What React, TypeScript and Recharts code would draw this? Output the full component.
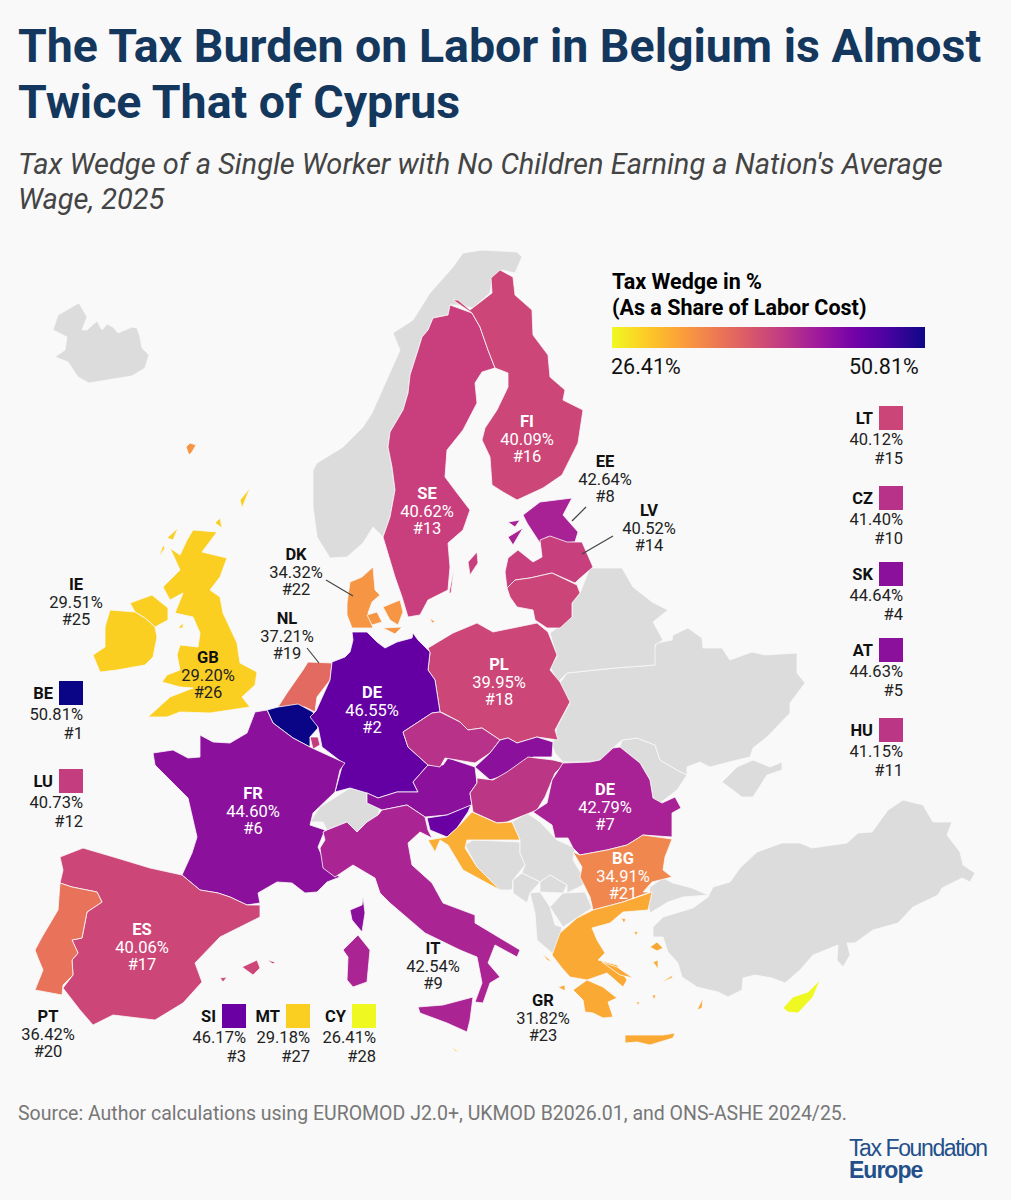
import { ScatterChart, Scatter, XAxis, YAxis } from 'recharts';

type Pt = [number, number];

// outlines, in the picture's own map units
const iceland: Pt[] = [[53,330],[58,315],[72,307],[79,303],[87,317],[82,330],[87,330],[97,321],[102,330],[107,324],[113,327],[118,333],[132,327],[137,328],[140,337],[142,348],[149,355],[145,368],[132,376],[113,379],[89,383],[78,377],[68,362],[55,357],[65,350],[67,337]];
const norway: Pt[] = [[463,253],[482,250],[517,252],[522,257],[515,273],[502,270],[492,280],[490,293],[473,308],[457,305],[450,305],[448,315],[433,318],[428,330],[422,337],[418,350],[410,375],[408,393],[403,410],[390,432],[388,447],[392,467],[395,490],[390,517],[383,537],[373,527],[363,543],[347,557],[330,558],[317,537],[313,507],[313,470],[317,463],[343,447],[363,427],[372,413],[388,377],[400,350],[393,333],[413,320],[430,293],[453,267]];
const sweden: Pt[] = [[450,305],[472,313],[480,327],[488,350],[495,368],[482,372],[475,383],[477,403],[463,430],[447,450],[445,477],[457,493],[470,510],[463,530],[448,543],[450,567],[448,590],[428,600],[420,615],[408,617],[402,597],[395,577],[383,537],[390,517],[395,490],[392,467],[388,447],[390,432],[403,410],[408,393],[410,375],[418,350],[422,337],[428,330],[433,318],[448,315]];
const gotland: Pt[] = [[477,552],[468,562],[470,575],[478,563]];
const oland: Pt[] = [[454,568],[449,593],[451,593]];
const finland: Pt[] = [[500,270],[513,277],[515,295],[532,310],[533,335],[548,355],[550,377],[565,390],[563,400],[583,410],[578,443],[562,475],[543,488],[517,500],[503,492],[492,485],[490,457],[482,440],[485,428],[497,410],[508,387],[508,373],[495,368],[488,350],[480,327],[472,313],[453,300],[458,300],[470,310],[492,293],[491,278]];
const estonia: Pt[] = [[523,515],[540,502],[572,498],[563,515],[578,532],[575,542],[563,543],[547,537],[540,543],[527,523]];
const saaremaa: Pt[] = [[508,537],[523,528],[513,545]];
const hiiumaa: Pt[] = [[508,522],[520,520],[515,527]];
const latvia: Pt[] = [[505,572],[508,558],[518,550],[533,562],[542,557],[540,540],[550,536],[567,542],[582,542],[593,567],[578,580],[575,583],[552,573],[530,578],[515,580],[507,588]];
const lithuania: Pt[] = [[507,588],[515,580],[530,578],[552,573],[577,585],[580,593],[572,603],[572,617],[560,628],[547,628],[535,620],[533,610],[517,607],[510,597]];
const poland: Pt[] = [[428,648],[453,633],[477,623],[493,632],[537,623],[548,632],[557,655],[550,670],[560,682],[570,702],[555,730],[558,740],[537,737],[517,743],[508,738],[500,740],[482,728],[468,730],[460,722],[443,713],[440,712],[435,680],[428,670],[430,653]];
const germany: Pt[] = [[352,632],[367,632],[377,642],[385,648],[397,642],[412,638],[413,633],[418,640],[430,652],[428,670],[435,680],[440,712],[432,713],[403,732],[408,747],[428,765],[413,782],[418,792],[397,792],[378,798],[367,793],[350,788],[335,792],[343,763],[322,747],[318,727],[310,717],[316,711],[330,680],[332,662],[345,657],[350,652],[353,640]];
const jutland: Pt[] = [[373,567],[375,590],[380,595],[372,602],[368,613],[373,628],[352,628],[347,615],[347,603],[350,582],[362,577]];
const zealand: Pt[] = [[383,607],[400,600],[403,612],[398,625],[390,620]];
const funen: Pt[] = [[367,615],[377,612],[382,622],[372,625]];
const lolland: Pt[] = [[383,628],[402,627],[395,634]];
const bornholm: Pt[] = [[430,618],[435,622],[432,623]];
const faroes: Pt[] = [[186,447],[190,443],[196,445],[192,452],[189,455]];
const britain: Pt[] = [[193,530],[217,532],[202,552],[227,558],[220,577],[210,590],[220,597],[223,613],[237,643],[240,663],[257,672],[255,685],[242,697],[250,707],[210,713],[180,712],[167,717],[148,717],[170,697],[193,688],[180,687],[162,682],[167,675],[180,670],[177,655],[180,645],[198,647],[200,633],[193,617],[175,613],[183,593],[170,600],[163,587],[180,570],[170,548],[180,555],[187,540]];
const lewis: Pt[] = [[167,538],[178,528],[173,540]];
const skye: Pt[] = [[159,557],[163,545],[165,548]];
const orkney: Pt[] = [[215,523],[220,518],[222,528]];
const shetland: Pt[] = [[240,500],[250,488],[242,508]];
const man: Pt[] = [[178,628],[183,623],[183,628]];
const northIreland: Pt[] = [[130,603],[152,595],[168,608],[168,620],[155,627],[145,618],[135,612]];
const ireland: Pt[] = [[110,610],[135,612],[145,618],[155,627],[157,637],[153,657],[145,665],[117,670],[100,672],[93,655],[105,647],[105,627]];
const netherlands: Pt[] = [[308,662],[332,663],[330,680],[317,697],[315,712],[305,707],[278,707],[287,693],[303,670]];
const limburg: Pt[] = [[310,714],[315,714],[315,722],[310,720]];
const belgium: Pt[] = [[267,710],[278,707],[298,704],[313,712],[318,728],[310,737],[310,747],[293,738],[273,723]];
const luxembourg: Pt[] = [[310,737],[318,737],[320,745],[313,749]];
const france: Pt[] = [[153,753],[173,750],[188,758],[200,757],[200,735],[213,742],[230,743],[247,733],[255,712],[267,710],[273,723],[293,738],[310,747],[323,753],[345,763],[340,770],[335,792],[313,813],[310,825],[325,830],[318,847],[325,863],[333,873],[340,877],[327,882],[317,892],[305,893],[292,883],[277,882],[258,893],[260,903],[247,905],[230,897],[218,893],[200,890],[182,875],[192,853],[197,837],[188,798],[173,783],[155,765]];
const corsica: Pt[] = [[363,897],[365,913],[362,932],[352,920],[350,910],[362,905]];
const switzerland: Pt[] = [[310,822],[320,807],[350,788],[367,793],[367,803],[380,808],[378,815],[367,822],[357,832],[347,822],[327,830],[323,822]];
const austria: Pt[] = [[367,793],[378,798],[397,792],[418,792],[413,782],[428,765],[443,765],[448,758],[475,767],[477,783],[470,793],[472,805],[447,815],[425,817],[407,805],[382,810],[367,803]];
const czechia: Pt[] = [[403,732],[432,713],[440,712],[460,722],[468,730],[482,728],[500,740],[490,753],[475,763],[445,758],[440,767],[428,765],[408,747]];
const slovakia: Pt[] = [[500,740],[508,738],[517,743],[537,737],[553,742],[552,757],[533,757],[512,773],[490,780],[475,767],[490,753]];
const hungary: Pt[] = [[477,778],[493,780],[507,772],[528,757],[553,760],[565,763],[555,773],[545,797],[537,810],[507,822],[497,823],[473,812],[470,793],[477,783]];
const slovenia: Pt[] = [[427,818],[447,815],[471,805],[468,812],[457,828],[447,837],[430,830]];
const croatia: Pt[] = [[472,812],[497,823],[512,822],[520,840],[493,840],[467,840],[465,848],[477,867],[500,890],[513,897],[487,883],[463,870],[448,845],[440,840],[435,852],[428,840],[447,837],[457,828]];
const bosnia: Pt[] = [[465,845],[473,840],[520,842],[520,853],[525,865],[513,880],[512,890],[500,890],[477,867]];
const serbia: Pt[] = [[512,822],[527,813],[540,822],[557,840],[575,848],[573,860],[587,883],[567,893],[567,885],[550,875],[540,882],[522,873],[525,865],[520,853],[520,840]];
const montenegro: Pt[] = [[513,880],[522,873],[540,882],[530,893],[527,903],[513,893]];
const kosovo: Pt[] = [[540,882],[550,875],[567,885],[563,893],[540,892]];
const macedonia: Pt[] = [[550,907],[563,893],[585,892],[592,908],[563,927]];
const albania: Pt[] = [[530,893],[540,892],[550,907],[555,925],[562,927],[557,947],[552,953],[537,940],[535,913]];
const bulgaria: Pt[] = [[573,852],[580,855],[607,850],[627,845],[643,835],[672,839],[665,857],[663,870],[672,877],[652,882],[643,892],[650,892],[623,902],[593,910],[590,897],[580,877],[582,867]];
const romania: Pt[] = [[620,747],[640,763],[650,780],[653,798],[662,803],[675,797],[681,808],[672,813],[672,837],[643,835],[627,845],[607,850],[580,855],[573,848],[568,838],[555,838],[552,825],[533,812],[547,803],[552,780],[563,763],[590,762],[600,760],[613,748]];
const moldova: Pt[] = [[622,740],[637,738],[655,745],[660,760],[677,770],[687,775],[677,790],[660,803],[653,798],[650,780],[640,763],[620,747]];
const ukraine: Pt[] = [[560,683],[567,673],[615,668],[655,665],[653,650],[657,643],[672,640],[673,635],[688,628],[702,638],[703,648],[722,648],[730,660],[752,652],[765,655],[797,653],[797,673],[805,683],[790,703],[790,713],[767,737],[753,748],[750,757],[737,760],[710,767],[700,762],[687,767],[687,775],[677,770],[660,760],[655,745],[637,738],[622,740],[613,748],[600,760],[590,762],[563,762],[555,753],[552,745],[557,727],[570,703]];
const crimea: Pt[] = [[722,782],[737,767],[753,760],[770,767],[782,762],[782,770],[767,775],[753,797],[742,797]];
const belarus: Pt[] = [[590,568],[600,568],[622,568],[633,587],[652,602],[668,610],[653,622],[663,640],[655,645],[655,665],[615,668],[567,673],[558,682],[550,667],[557,657],[550,633],[572,617],[572,603],[580,593]];
const thrace: Pt[] = [[650,887],[663,878],[673,883],[692,888],[708,895],[683,897],[668,902],[650,913],[648,905]];
const anatolia: Pt[] = [[653,927],[663,917],[693,908],[708,897],[713,887],[730,882],[740,868],[757,852],[782,843],[800,843],[812,848],[833,845],[847,843],[858,833],[872,832],[888,810],[903,800],[923,805],[933,822],[952,822],[947,835],[960,852],[963,865],[975,873],[970,882],[962,878],[942,888],[938,895],[913,907],[898,923],[873,930],[855,943],[847,943],[850,955],[843,967],[837,960],[838,945],[813,955],[800,970],[785,983],[772,978],[755,975],[743,978],[742,990],[728,997],[718,992],[697,987],[682,977],[678,963],[668,952],[663,937],[653,937]];
const greece: Pt[] = [[593,910],[623,902],[652,892],[648,910],[623,912],[610,923],[592,928],[597,940],[605,953],[598,960],[617,965],[627,980],[623,987],[607,973],[587,980],[570,977],[562,968],[552,955],[560,933],[577,918]];
const peloponnese: Pt[] = [[573,990],[587,980],[603,987],[617,998],[608,1002],[613,1017],[603,1018],[593,1013],[585,1012],[583,1000]];
const crete: Pt[] = [[625,1035],[663,1035],[675,1033],[673,1038],[650,1045],[637,1042],[625,1043]];
const evia: Pt[] = [[602,962],[617,967],[633,978],[620,975]];
const lesbos: Pt[] = [[650,947],[657,942],[663,948],[657,951]];
const chios: Pt[] = [[653,962],[658,960],[658,969]];
const rhodes: Pt[] = [[697,1010],[703,998],[702,1008]];
const samos: Pt[] = [[660,983],[673,975],[672,978]];
const corfu: Pt[] = [[542,953],[552,962],[547,960]];
const kefalonia: Pt[] = [[558,987],[565,985],[565,991]];
const limnos: Pt[] = [[634,931],[638,932],[636,936]];
const thasos: Pt[] = [[621,918],[626,919],[624,923]];
const naxos: Pt[] = [[652,995],[656,995],[654,1000]];
const milos: Pt[] = [[636,1002],[640,1002],[638,1005]];
const cyprus: Pt[] = [[783,1008],[793,997],[808,992],[820,980],[813,997],[798,1013],[788,1012]];
const italy: Pt[] = [[323,832],[327,830],[347,822],[357,832],[367,822],[378,815],[382,810],[407,805],[425,817],[428,830],[432,838],[420,832],[408,843],[412,865],[432,883],[443,903],[475,915],[475,923],[500,938],[520,950],[517,957],[495,945],[488,963],[500,977],[490,983],[483,1003],[475,1002],[482,983],[477,957],[460,950],[425,933],[390,903],[380,893],[375,878],[353,865],[335,877],[323,868],[320,848],[325,840]];
const sardinia: Pt[] = [[343,950],[358,935],[370,950],[367,982],[353,987],[347,980],[348,957]];
const sicily: Pt[] = [[418,1007],[443,1005],[473,997],[470,1020],[467,1032],[447,1023],[420,1013]];
const malta: Pt[] = [[452,1047],[459,1052],[455,1051]];
const spain: Pt[] = [[60,857],[83,848],[117,858],[150,868],[182,875],[200,890],[218,893],[230,897],[247,905],[260,905],[260,917],[220,937],[195,963],[202,982],[183,1003],[155,1020],[113,1015],[93,1025],[80,1010],[63,988],[73,975],[72,960],[78,953],[72,940],[82,938],[87,912],[102,902],[97,892],[72,887],[60,883],[63,870]];
const mallorca: Pt[] = [[242,967],[257,960],[260,968],[253,975]];
const menorca: Pt[] = [[267,960],[275,962],[273,964]];
const ibiza: Pt[] = [[220,978],[227,977],[223,982]];
const portugal: Pt[] = [[60,883],[72,887],[97,892],[102,902],[87,912],[82,938],[72,940],[78,953],[72,960],[73,975],[63,985],[62,995],[35,990],[43,970],[38,958],[35,950],[42,937],[58,910]];

const greyShapes = [iceland, norway, switzerland, bosnia, serbia, montenegro, kosovo, macedonia, albania, moldova, ukraine, crimea, belarus, thrace, anatolia];
const regions: { code: string; parts: Pt[][] }[] = [
  { code: 'SE', parts: [sweden, gotland, oland] },
  { code: 'FI', parts: [finland] },
  { code: 'EE', parts: [estonia, saaremaa, hiiumaa] },
  { code: 'LV', parts: [latvia] },
  { code: 'LT', parts: [lithuania] },
  { code: 'PL', parts: [poland] },
  { code: 'DK', parts: [jutland, zealand, funen, lolland, bornholm, faroes] },
  { code: 'GB', parts: [britain, lewis, skye, orkney, shetland, man, northIreland] },
  { code: 'IE', parts: [ireland] },
  { code: 'NL', parts: [netherlands, limburg] },
  { code: 'BE', parts: [belgium] },
  { code: 'LU', parts: [luxembourg] },
  { code: 'DE', parts: [germany] },
  { code: 'FR', parts: [france, corsica] },
  { code: 'AT', parts: [austria] },
  { code: 'CZ', parts: [czechia] },
  { code: 'SK', parts: [slovakia] },
  { code: 'HU', parts: [hungary] },
  { code: 'SI', parts: [slovenia] },
  { code: 'HR', parts: [croatia] },
  { code: 'RO', parts: [romania] },
  { code: 'BG', parts: [bulgaria] },
  { code: 'GR', parts: [greece, peloponnese, crete, evia, lesbos, chios, rhodes, samos, corfu, kefalonia, limnos, thasos, naxos, milos] },
  { code: 'CY', parts: [cyprus] },
  { code: 'IT', parts: [italy, sardinia, sicily] },
  { code: 'MT', parts: [malta] },
  { code: 'ES', parts: [spain, mallorca, menorca, ibiza] },
  { code: 'PT', parts: [portugal] },
];

const regionColors: Record<string, string> = {
  SE: '#c93f7d', FI: '#cc4778', EE: '#a82296', LV: '#c83f7e', LT: '#cb4579', PL: '#cc4778',
  DK: '#f69544', GB: '#fbcf22', IE: '#fbcf22', NL: '#e36a60', BE: '#0a0587', LU: '#c43e7f',
  DE: '#6400a3', FR: '#8b119c', AT: '#8b119c', CZ: '#b83289', SK: '#8b119c', HU: '#bc3686',
  SI: '#6a00a4', HR: '#faae33', RO: '#a82296', BG: '#f0874e', GR: '#faa935', CY: '#eff821',
  IT: '#ab2494', MT: '#fbcf22', ES: '#cc4778', PT: '#e8735a',
};

// labels sitting on or beside the map
const mapLabels = [
  { code: 'FI', value: '40.09%', rank: '#16', x: 527, y: 439, light: true },
  { code: 'SE', value: '40.62%', rank: '#13', x: 427, y: 511, light: true },
  { code: 'EE', value: '42.64%', rank: '#8', x: 605, y: 479, light: false },
  { code: 'LV', value: '40.52%', rank: '#14', x: 649, y: 528, light: false },
  { code: 'DK', value: '34.32%', rank: '#22', x: 296, y: 572, light: false },
  { code: 'NL', value: '37.21%', rank: '#19', x: 287, y: 636, light: false },
  { code: 'IE', value: '29.51%', rank: '#25', x: 76, y: 602, light: false },
  { code: 'GB', value: '29.20%', rank: '#26', x: 208, y: 675, light: false },
  { code: 'PT', value: '36.42%', rank: '#20', x: 48, y: 1034, light: false },
  { code: 'ES', value: '40.06%', rank: '#17', x: 142, y: 947, light: true },
  { code: 'FR', value: '44.60%', rank: '#6', x: 253, y: 811, light: true },
  { code: 'DE', value: '46.55%', rank: '#2', x: 372, y: 710, light: true },
  { code: 'PL', value: '39.95%', rank: '#18', x: 499, y: 682, light: true },
  { code: 'DE', value: '42.79%', rank: '#7', x: 605, y: 807, light: true },
  { code: 'BG', value: '34.91%', rank: '#21', x: 623, y: 876, light: true },
  { code: 'IT', value: '42.54%', rank: '#9', x: 433, y: 966, light: false },
  { code: 'GR', value: '31.82%', rank: '#23', x: 543, y: 1018, light: false },
];

// small countries keyed with a swatch, x is the swatch's right edge
const keyLabels = [
  { code: 'BE', value: '50.81%', rank: '#1', x: 83, y: 681 },
  { code: 'LU', value: '40.73%', rank: '#12', x: 83, y: 769 },
  { code: 'LT', value: '40.12%', rank: '#15', x: 903, y: 406 },
  { code: 'CZ', value: '41.40%', rank: '#10', x: 903, y: 486 },
  { code: 'SK', value: '44.64%', rank: '#4', x: 903, y: 562 },
  { code: 'AT', value: '44.63%', rank: '#5', x: 903, y: 638 },
  { code: 'HU', value: '41.15%', rank: '#11', x: 903, y: 718 },
  { code: 'SI', value: '46.17%', rank: '#3', x: 246, y: 1004 },
  { code: 'MT', value: '29.18%', rank: '#27', x: 310, y: 1004 },
  { code: 'CY', value: '26.41%', rank: '#28', x: 376, y: 1004 },
];

const leaderLines: Pt[][] = [
  [[586, 507], [572, 521]],
  [[613, 536], [582, 554]],
  [[326, 580], [353, 596]],
  [[307, 648], [319, 663]],
];

const legendStops = ['#f0f921', '#fdca26', '#fb9f3a', '#ed7953', '#d8576b', '#bd3786', '#9c179e', '#7201a8', '#46039f', '#0d0887'];

const FONT = 'Roboto, sans-serif';
const toPoints = (pts: Pt[]) => pts.map(([x, y]) => ({ x, y }));
const NoDot = () => <g />;

const MapLabel = (props: any) => {
  const { cx, cy, payload } = props;
  const main = payload.light ? '#ffffff' : '#222222';
  const head = payload.light ? '#ffffff' : '#111111';
  return (
    <g fontFamily={FONT} textAnchor="middle" dominantBaseline="central" fontSize={16.5}>
      <text x={cx} y={cy - 17.5} fontWeight={700} fill={head}>{payload.code}</text>
      <text x={cx} y={cy} fill={main}>{payload.value}</text>
      <text x={cx} y={cy + 17.5} fill={main}>{payload.rank}</text>
    </g>
  );
};

const KeyLabel = (props: any) => {
  const { cx, cy, payload } = props;
  return (
    <g fontFamily={FONT} textAnchor="end" dominantBaseline="central" fontSize={16.5}>
      <rect x={cx - 24} y={cy} width={24} height={24} fill={regionColors[payload.code]} />
      <text x={cx - 30} y={cy + 12} fontWeight={700} fill="#111111">{payload.code}</text>
      <text x={cx} y={cy + 33} fill="#222222">{payload.value}</text>
      <text x={cx} y={cy + 52} fill="#222222">{payload.rank}</text>
    </g>
  );
};

const abs = (left: number, top: number, style: any) => ({ position: 'absolute', left, top, whiteSpace: 'nowrap', fontFamily: FONT, ...style });

export default function App() {
  return (
    <div style={{ position: 'absolute', left: 0, top: 0, width: 1011, height: 1200, background: '#f9f9f9', overflow: 'hidden' }}>
      <div style={abs(18, 18, { fontSize: 46.5, fontWeight: 700, lineHeight: '56px', color: '#14375e' })}>
        The Tax Burden on Labor in Belgium is Almost<br />Twice That of Cyprus
      </div>
      <div style={abs(18, 147, { fontSize: 29, fontStyle: 'italic', lineHeight: '35px', color: '#444444' })}>
        Tax Wedge of a Single Worker with No Children Earning a Nation's Average<br />Wage, 2025
      </div>

      <div style={{ position: 'absolute', left: 0, top: 0 }}>
        <ScatterChart width={1011} height={1200} margin={{ top: 0, right: 0, bottom: 0, left: 0 }}>
          <XAxis type="number" dataKey="x" domain={[0, 1011]} hide />
          <YAxis type="number" dataKey="y" domain={[0, 1200]} reversed hide />
          {greyShapes.map((pts, i) => (
            <Scatter
              key={`grey-${i}`}
              data={toPoints(pts)}
              isAnimationActive={false}
              shape={NoDot}
              lineJointType="linearClosed"
              line={{ fill: '#dcdcdc', stroke: '#f9f9f9', strokeWidth: 0.8 }}
            />
          ))}
          {regions.flatMap((r) =>
            r.parts.map((pts, i) => (
              <Scatter
                key={`${r.code}-${i}`}
                data={toPoints(pts)}
                isAnimationActive={false}
                shape={NoDot}
                lineJointType="linearClosed"
                line={{ fill: regionColors[r.code], stroke: '#f9f9f9', strokeWidth: 0.8 }}
              />
            )),
          )}
          {leaderLines.map((pts, i) => (
            <Scatter
              key={`leader-${i}`}
              data={toPoints(pts)}
              isAnimationActive={false}
              shape={NoDot}
              line={{ stroke: '#444444', strokeWidth: 1.2 }}
            />
          ))}
          <Scatter data={mapLabels} isAnimationActive={false} shape={MapLabel} />
          <Scatter data={keyLabels} isAnimationActive={false} shape={KeyLabel} />
        </ScatterChart>
      </div>

      <div style={abs(612, 269, { fontSize: 21.5, fontWeight: 700, lineHeight: '25.5px', color: '#000000' })}>
        Tax Wedge in %<br />(As a Share of Labor Cost)
      </div>
      <div style={{ position: 'absolute', left: 612, top: 327, width: 313, height: 21, background: `linear-gradient(to right, ${legendStops.join(', ')})` }} />
      <div style={abs(611, 354, { fontSize: 21.5, color: '#111111' })}>26.41%</div>
      <div style={abs(849, 354, { fontSize: 21.5, color: '#111111' })}>50.81%</div>

      <div style={abs(18, 1102, { fontSize: 19.5, color: '#777777' })}>
        Source: Author calculations using EUROMOD J2.0+, UKMOD B2026.01, and ONS-ASHE 2024/25.
      </div>
      <div style={abs(849, 1137, { fontFamily: '"Liberation Sans", sans-serif', fontSize: 23, letterSpacing: -1.4, color: '#23508a', lineHeight: '23px' })}>
        Tax Foundation
      </div>
      <div style={abs(849, 1159, { fontFamily: '"Liberation Sans", sans-serif', fontSize: 23, fontWeight: 700, letterSpacing: -1, color: '#23508a', lineHeight: '23px' })}>
        Europe
      </div>
    </div>
  );
}
